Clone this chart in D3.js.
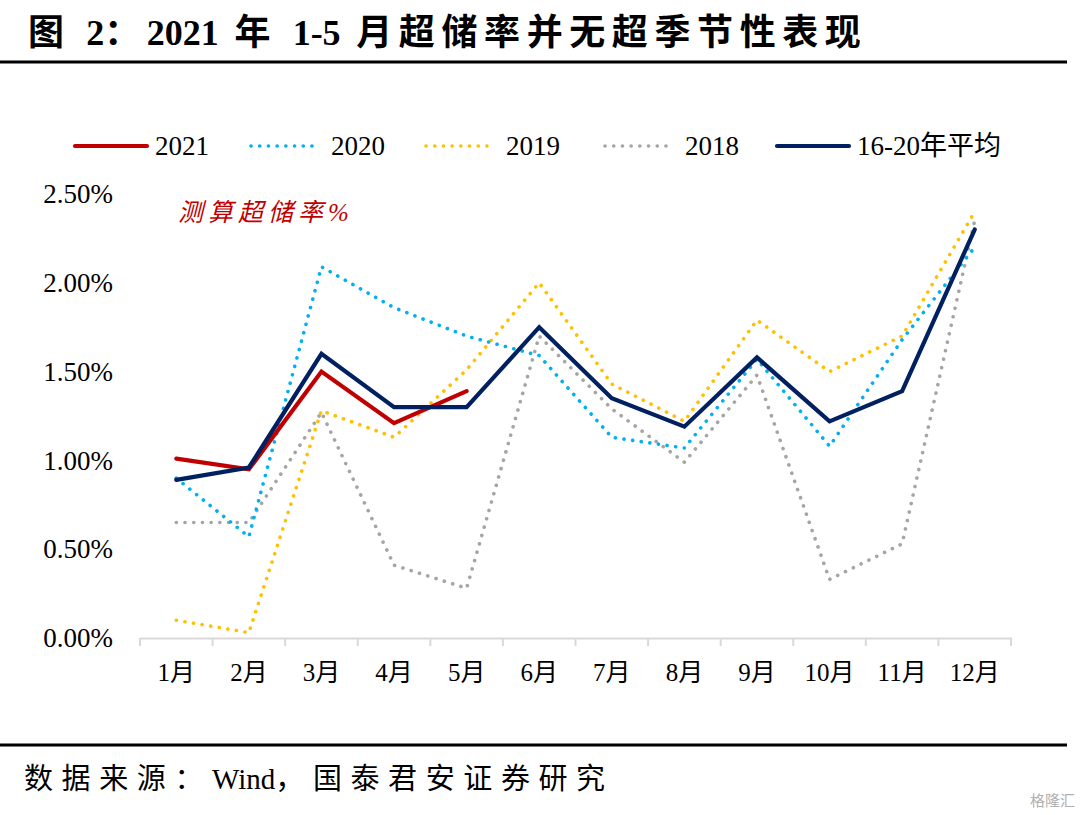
<!DOCTYPE html>
<html>
<head>
<meta charset="utf-8">
<script src="https://cdn.jsdelivr.net/npm/d3@7"></script>
<style>
  body { margin: 0; background: #fff; }
  svg text { font-family: "Liberation Serif", "Noto Sans CJK SC", serif; }
</style>
</head>
<body>
<div id="chart"></div>
<script>
// data
var months = ["1月", "2月", "3月", "4月", "5月", "6月", "7月", "8月", "9月", "10月", "11月", "12月"];
var yTicks = [0, 0.5, 1.0, 1.5, 2.0, 2.5];

var s2021 = [1.01, 0.95, 1.50, 1.21, 1.39];
var s2020 = [0.90, 0.57, 2.09, 1.86, 1.70, 1.59, 1.13, 1.07, 1.57, 1.08, 1.68, 2.20];
var s2019 = [0.10, 0.03, 1.28, 1.13, 1.51, 2.00, 1.43, 1.22, 1.79, 1.50, 1.70, 2.40];
var s2018 = [0.65, 0.65, 1.27, 0.41, 0.28, 1.70, 1.29, 0.99, 1.48, 0.33, 0.53, 2.35];
var sAvg  = [0.89, 0.96, 1.60, 1.30, 1.30, 1.75, 1.35, 1.19, 1.58, 1.22, 1.39, 2.30];

var seriesNames = ["2021", "2020", "2019", "2018", "16-20年平均"];

var width = 1080, height = 815;
var margin = { top: 194, right: 69, bottom: 177, left: 140 };
var chartWidth = width - margin.left - margin.right;
var chartHeight = height - margin.top - margin.bottom;

var svg = d3.select("#chart").append("svg")
    .attr("width", width)
    .attr("height", height);

// text with wider spacing on the CJK parts only (latin parts stay tight)
function spacedText(g, parts, cjkSpacing) {
  parts.forEach(function(p) {
    g.append("tspan")
      .style("letter-spacing", /[A-Za-z0-9\-]/.test(p) ? "0px" : cjkSpacing)
      .text(p);
  });
}

// title and rules
var title = svg.append("text")
    .attr("x", 28)
    .attr("y", 45)
    .style("font-size", "36px")
    .style("font-weight", "bold");
spacedText(title, ["图 ", "2", "：", "2021", " 年 ", "1-5", " 月超储率并无超季节性表现"], "6.6px");

svg.append("line")
    .attr("x1", 0).attr("x2", 1067)
    .attr("y1", 62).attr("y2", 62)
    .attr("stroke", "#000").attr("stroke-width", 3);

svg.append("line")
    .attr("x1", 0).attr("x2", 1067)
    .attr("y1", 745).attr("y2", 745)
    .attr("stroke", "#000").attr("stroke-width", 3);

var source = svg.append("text")
    .attr("x", 24)
    .attr("y", 789)
    .style("font-size", "29px");
spacedText(source, ["数据来源：", "Wind", "，国泰君安证券研究"], "8.6px");

svg.append("text")
    .attr("x", 1075)
    .attr("y", 806)
    .attr("text-anchor", "end")
    .style("font-size", "15px")
    .style("font-family", "Noto Sans CJK SC")
    .attr("fill", "#b0b0b0")
    .text("格隆汇");

var chartGroup = svg.append("g")
    .attr("transform", `translate(${margin.left}, ${margin.top})`);

// scales
var xBand = d3.scaleBand()
    .domain(months)
    .range([0, chartWidth]);

var yLinearScale = d3.scaleLinear()
    .domain([0, 2.5])
    .range([chartHeight, 0]);

var xc = function(i) { return xBand(months[i]) + xBand.bandwidth() / 2; };

// axes
var bottomAxis = d3.axisBottom(xBand).tickSize(0).tickPadding(25);
var xAxisG = chartGroup.append("g")
    .attr("transform", `translate(0, ${chartHeight})`)
    .call(bottomAxis);
xAxisG.select(".domain").attr("stroke", "#d9d9d9").attr("stroke-width", 2);
xAxisG.selectAll("text")
    .style("font-size", "25px")
    .attr("fill", "#000");

// category boundary ticks
chartGroup.append("g").selectAll("line")
    .data(d3.range(months.length + 1))
    .enter()
    .append("line")
    .attr("x1", d => d * xBand.bandwidth())
    .attr("x2", d => d * xBand.bandwidth())
    .attr("y1", chartHeight)
    .attr("y2", chartHeight + 8)
    .attr("stroke", "#d9d9d9")
    .attr("stroke-width", 2);

var leftAxis = d3.axisLeft(yLinearScale)
    .tickValues(yTicks)
    .tickSize(0)
    .tickPadding(27)
    .tickFormat(d => d.toFixed(2) + "%");
var yAxisG = chartGroup.append("g").call(leftAxis);
yAxisG.select(".domain").remove();
yAxisG.selectAll("text")
    .style("font-size", "27px")
    .attr("fill", "#000");

// annotation
chartGroup.append("text")
    .attr("x", 38)
    .attr("y", 27)
    .style("font-size", "25px")
    .style("font-style", "italic")
    .style("letter-spacing", "5px")
    .attr("fill", "#c00000")
    .text("测算超储率%");

// lines
var styles = [
  { color: "#c00000", dotted: false },
  { color: "#00b0f0", dotted: true },
  { color: "#ffc000", dotted: true },
  { color: "#a5a5a5", dotted: true },
  { color: "#002060", dotted: false }
];
var allSeries = [s2021, s2020, s2019, s2018, sAvg];

var line = d3.line()
    .x((d, i) => xc(i))
    .y(d => yLinearScale(d));

// draw order: dotted first, then solid on top
[3, 2, 1, 0, 4].forEach(function(k) {
  var st = styles[k];
  var path = chartGroup.append("path")
      .datum(allSeries[k])
      .attr("d", line)
      .attr("fill", "none")
      .attr("stroke", st.color)
      .attr("stroke-linejoin", "miter");
  if (st.dotted) {
    path.attr("stroke-width", 3.6)
        .attr("stroke-linecap", "round")
        .attr("stroke-dasharray", "0.1 8.6");
  } else {
    path.attr("stroke-width", 4.2)
        .attr("stroke-linecap", "round");
  }
});

// legend
var legendX = [75, 251, 426, 605, 777];
var legend = svg.append("g");
seriesNames.forEach(function(name, k) {
  var st = styles[k];
  var seg = legend.append("line")
      .attr("x1", legendX[k]).attr("x2", legendX[k] + (st.dotted ? 64 : 72))
      .attr("y1", 146).attr("y2", 146)
      .attr("stroke", st.color);
  if (st.dotted) {
    seg.attr("stroke-width", 3.6).attr("stroke-linecap", "round").attr("stroke-dasharray", "0.1 8.6");
  } else {
    seg.attr("stroke-width", 4.2).attr("stroke-linecap", "round");
  }
  legend.append("text")
      .attr("x", legendX[k] + 80)
      .attr("y", 155)
      .style("font-size", "27px")
      .text(name);
});
</script>
</body>
</html>
